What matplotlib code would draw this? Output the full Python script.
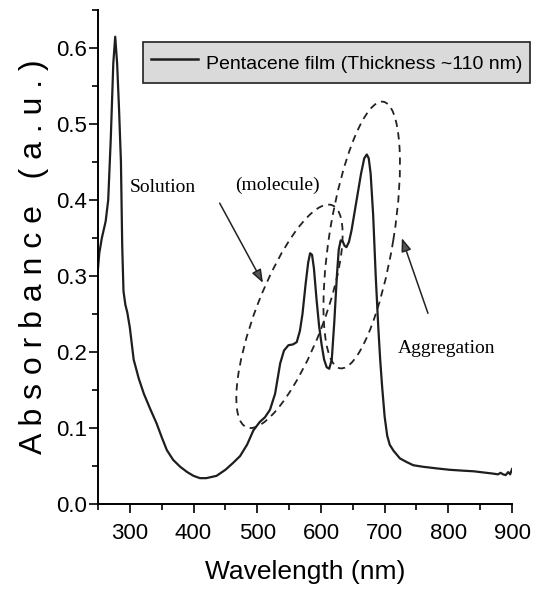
import matplotlib
matplotlib.use('Agg')
import matplotlib.pyplot as plt
from matplotlib.patches import Ellipse
from matplotlib.transforms import ScaledTranslation
from matplotlib.ticker import MultipleLocator, FormatStrFormatter
from matplotlib.lines import Line2D

# wavelength (nm) and absorbance (a.u.)
wavelength = [250, 252, 256, 262, 266, 270, 274, 277, 280, 283, 286, 288, 290, 293, 296,
              300, 306, 314, 322, 332, 342, 350, 358, 368, 379, 390, 400, 410, 420,
              436, 450, 462, 473, 484, 494, 504, 512, 520, 528, 536, 542, 549, 556,
              562, 567, 571, 576, 580, 583, 586, 589, 593, 597, 601, 605, 609, 613,
              617, 621, 625, 628, 631, 634, 637, 640, 644, 648, 653, 658, 663, 668,
              672, 675, 678, 682, 686, 690, 693, 696, 700, 704, 708, 714, 724, 735,
              745, 760, 780, 802, 820, 840, 860, 870, 878, 882, 886, 890, 894, 897, 900]
absorbance = [0.310, 0.330, 0.350, 0.372, 0.400, 0.480, 0.580, 0.615, 0.580, 0.520,
              0.450, 0.340, 0.280, 0.262, 0.252, 0.232, 0.190, 0.165, 0.145, 0.125,
              0.106, 0.088, 0.071, 0.058, 0.049, 0.042, 0.037, 0.034, 0.034, 0.037,
              0.045, 0.054, 0.063, 0.078, 0.097, 0.108, 0.114, 0.124, 0.145, 0.185,
              0.202, 0.209, 0.210, 0.213, 0.228, 0.250, 0.290, 0.318, 0.330, 0.328,
              0.310, 0.270, 0.235, 0.210, 0.190, 0.180, 0.178, 0.190, 0.240, 0.300,
              0.335, 0.347, 0.346, 0.340, 0.338, 0.345, 0.360, 0.385, 0.410, 0.435,
              0.455, 0.460, 0.455, 0.435, 0.380, 0.300, 0.233, 0.190, 0.155, 0.115,
              0.090, 0.078, 0.070, 0.060, 0.055, 0.051, 0.049, 0.047, 0.045, 0.044,
              0.043, 0.041, 0.040, 0.039, 0.041, 0.039, 0.038, 0.042, 0.039, 0.046]

legend_label = 'Pentacene film (Thickness ~110 nm)'
sans = ['Liberation Sans', 'DejaVu Sans']
serif = ['Liberation Serif', 'DejaVu Serif']

fig = plt.figure(figsize=(5.40, 5.96), dpi=100)
ax = fig.add_axes([0.1815, 0.1544, 0.7667, 0.8286])

ax.plot(wavelength, absorbance, color='#1e1e1e', lw=1.6)

ax.set_xlim(250, 900)
ax.set_ylim(0, 0.65)
ax.xaxis.set_major_locator(MultipleLocator(100))
ax.xaxis.set_minor_locator(MultipleLocator(50))
ax.yaxis.set_major_locator(MultipleLocator(0.1))
ax.yaxis.set_minor_locator(MultipleLocator(0.05))
ax.yaxis.set_major_formatter(FormatStrFormatter('%.1f'))
ax.set_xticks([300, 400, 500, 600, 700, 800, 900])

for s in ['top', 'right']:
    ax.spines[s].set_visible(False)
for s in ['left', 'bottom']:
    ax.spines[s].set_linewidth(1.4)
ax.tick_params(which='major', direction='out', length=6.5, width=1.2, labelsize=16)
ax.tick_params(which='minor', direction='out', length=4, width=1.2)
ax.tick_params(axis='x', which='major', pad=7)
ax.tick_params(axis='y', which='major', pad=1.5)
for lab in ax.get_xticklabels() + ax.get_yticklabels():
    lab.set_fontfamily(sans)

ax.set_xlabel('Wavelength (nm)', fontsize=19, family=sans, labelpad=12)
ax.set_ylabel('A b s o r b a n c e   ( a . u . )', fontsize=23, family=sans,
              labelpad=5)

# legend box
handle = Line2D([], [], color='#1e1e1e', lw=1.8)
leg = ax.legend([handle], [legend_label], loc='upper left',
                bbox_to_anchor=(0.2648, 0.9295), bbox_transform=fig.transFigure,
                prop={'family': sans, 'size': 14}, fancybox=False,
                facecolor='#dadada', edgecolor='#202020', framealpha=1,
                handlelength=2.45, handletextpad=0.4, handleheight=1.6,
                borderpad=0.4, borderaxespad=0)
leg.get_frame().set_linewidth(1.2)

# dashed ellipses, sized in pixels around centres given in data units
ell1 = Ellipse((0, 0), 238, 68, angle=69, fill=False, ls=(0, (4, 3)), lw=1.3,
               color='#222222', transform=ScaledTranslation(550.6, 0.247, ax.transData))
ell2 = Ellipse((0, 0), 270, 64, angle=80.8, fill=False, ls=(0, (4, 3)), lw=1.3,
               color='#222222', transform=ScaledTranslation(664.0, 0.354, ax.transData))
ax.add_patch(ell1)
ax.add_patch(ell2)

# annotations
ax.text(300, 0.416, 'Solution', family=serif, fontsize=14, va='center')
ax.text(466, 0.420, '(molecule)', family=serif, fontsize=14, va='center')
ax.text(721, 0.204, 'Aggregation', family=serif, fontsize=14, va='center')

arrow = dict(arrowstyle='-|>,head_length=0.8,head_width=0.3', ec='#222222',
             fc='#555555', lw=1.1, shrinkA=0, shrinkB=0)
ax.annotate('', xy=(509, 0.291), xytext=(441, 0.396), arrowprops=arrow)
ax.annotate('', xy=(727, 0.350), xytext=(768, 0.251), arrowprops=arrow)

fig.savefig('out.png', dpi=100)
